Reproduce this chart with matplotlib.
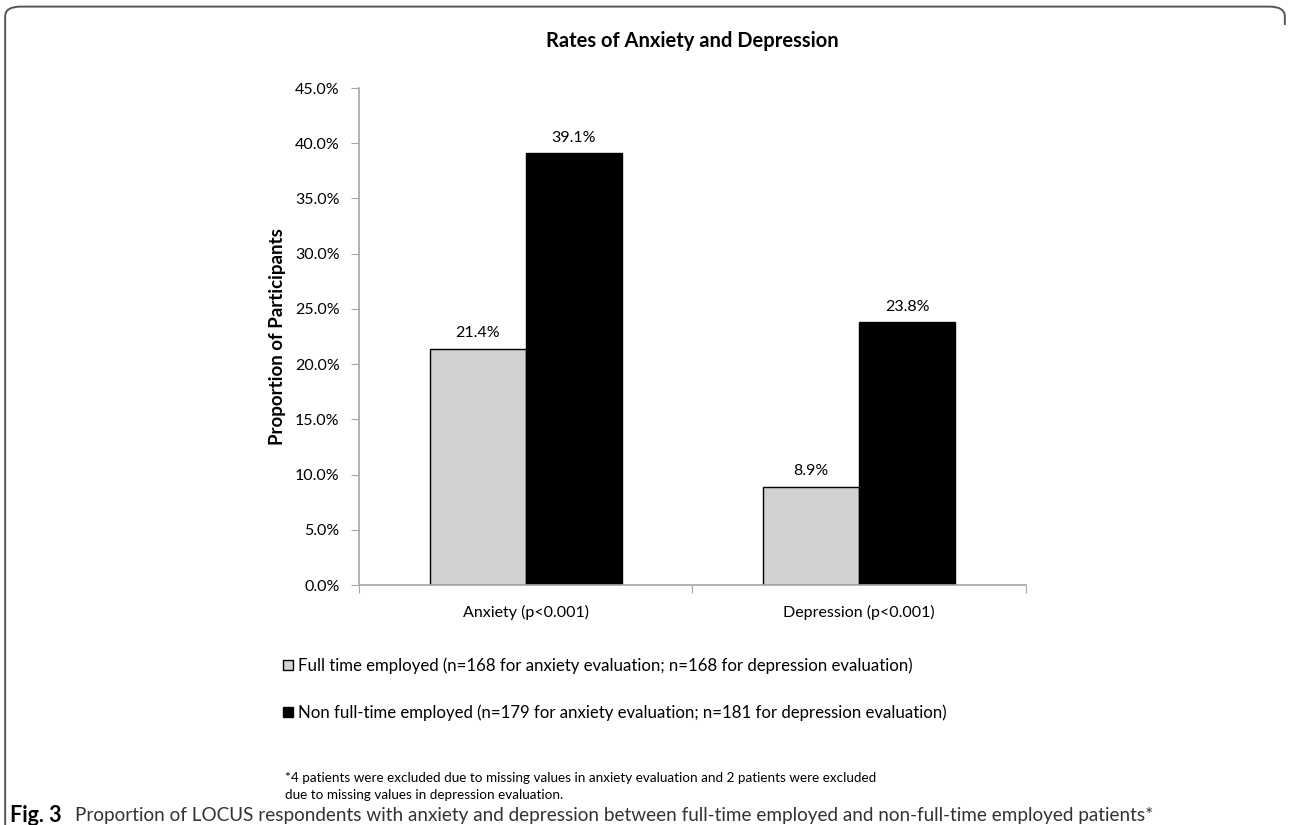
import matplotlib.pyplot as plt
from matplotlib.patches import FancyBboxPatch
from matplotlib.ticker import FuncFormatter
import numpy as np

plt.rcParams['font.family'] = ['Lato', 'DejaVu Sans']

# values (percent)
categories = ['Anxiety (p<0.001)', 'Depression (p<0.001)']
full_time = [21.4, 8.9]
non_full_time = [39.1, 23.8]
full_label = 'Full time employed (n=168 for anxiety evaluation; n=168 for depression evaluation)'
non_label = 'Non full-time employed (n=179 for anxiety evaluation; n=181 for depression evaluation)'
yticks = np.arange(0, 45.1, 5)

fig = plt.figure(figsize=(12.9, 8.25), dpi=100)

# rounded frame around the figure panel (no right edge)
frame = FancyBboxPatch((0.004, -0.05), 0.992, 1.042, boxstyle='round,pad=0,rounding_size=0.012',
                       transform=fig.transFigure, fill=False, edgecolor='#555555', linewidth=1.4)
fig.patches.append(frame)
fig.patches.append(plt.Rectangle((0.985, -0.06), 0.02, 1.03, transform=fig.transFigure,
                                 facecolor='white', edgecolor='none'))

ax = fig.add_axes([0.2783, 0.2909, 0.517, 0.6024])
x = np.arange(len(categories))
w = 0.288
b1 = ax.bar(x - w / 2, full_time, w, color='#d0d2d3', edgecolor='black', linewidth=1.0, label=full_label)
b2 = ax.bar(x + w / 2, non_full_time, w, color='black', edgecolor='black', linewidth=1.0, label=non_label)

for bars, vals in ((b1, full_time), (b2, non_full_time)):
    for r, v in zip(bars, vals):
        ax.annotate(f'{v:.1f}%', (r.get_x() + r.get_width() / 2, v), xytext=(0, 6),
                    textcoords='offset points', ha='center', va='bottom', fontsize=11.5)

ax.set_xlim(-0.5, 1.5)
ax.set_ylim(0, 45)
ax.set_yticks(yticks)
ax.yaxis.set_major_formatter(FuncFormatter(lambda v, p: f'{v:.1f}%'))
ax.set_xticks([-0.5, 0.5, 1.5])
ax.set_xticklabels([])
ax.set_xticks(x, minor=True)
ax.set_xticklabels(categories, minor=True, fontsize=11.5)
ax.tick_params(axis='x', which='minor', length=0, pad=14)
ax.tick_params(axis='x', which='major', length=6, color='#a6a6a6', direction='out')
ax.tick_params(axis='y', length=6, color='#a6a6a6', labelsize=11.5, pad=8)
for s in ('top', 'right'):
    ax.spines[s].set_visible(False)
for s in ('left', 'bottom'):
    ax.spines[s].set_color('#a6a6a6')
    ax.spines[s].set_linewidth(1.2)

ax.set_ylabel('Proportion of Participants', fontsize=13.5, fontweight='bold', labelpad=6)
fig.text(0.5365, 0.950, 'Rates of Anxiety and Depression', ha='center', va='center',
         fontsize=14.5, fontweight='bold')

fig.legend(handles=[b1, b2], loc='upper left', bbox_to_anchor=(0.219, 0.203), frameon=False,
           fontsize=12.1, handlelength=0.6, handleheight=0.6, handletextpad=0.3, labelspacing=1.8,
           borderpad=0, borderaxespad=0)

fig.text(0.221, 0.0465, '*4 patients were excluded due to missing values in anxiety evaluation and 2 patients were excluded\n'
         'due to missing values in depression evaluation.', ha='left', va='center', fontsize=9.7,
         linespacing=1.5)

# caption
fig.text(0.008, 0.011, 'Fig. 3', ha='left', va='center', fontsize=15.5, fontweight='bold')
fig.text(0.0585, 0.011, 'Proportion of LOCUS respondents with anxiety and depression between full-time employed '
         'and non-full-time employed patients*', ha='left', va='center', fontsize=13.6,
         color='#333333')

fig.savefig('out.png', dpi=100)
